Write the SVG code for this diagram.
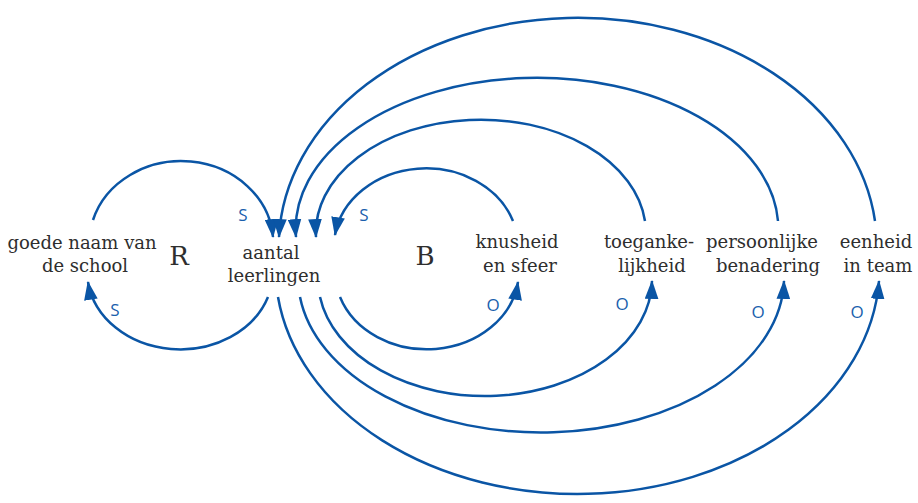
<svg xmlns="http://www.w3.org/2000/svg" width="918" height="503" viewBox="0 0 918 503">
<style>
.lbl{font-family:"DejaVu Serif","Liberation Serif",serif;font-size:18px;fill:#2e2e2e;text-anchor:middle}
.big{font-family:"DejaVu Serif","Liberation Serif",serif;font-size:26px;fill:#2e2e2e;text-anchor:middle}
.pol{font-family:"Open Sans","Liberation Sans",sans-serif;font-size:17px;fill:#1a5fad;text-anchor:middle}
.c{fill:none;stroke:#0a55a5;stroke-width:2.5;marker-end:url(#ah)}
</style>
<defs>
<marker id="ah" markerUnits="userSpaceOnUse" markerWidth="19" markerHeight="14" viewBox="0 0 18 13" refX="17" refY="6.5" orient="auto">
<path d="M0,0 L18,6.5 L0,13 z" fill="#0a55a5"/>
</marker>
</defs>
<rect width="918" height="503" fill="#fff"/>
<g id="connectors">
<path class="c" d="M93,220 A92,82 0 0 1 273,237"/>
<path class="c" d="M268,297 A93,78 0 0 1 88,282"/>
<path class="c" d="M513,221 A92,78 0 0 0 335,235"/>
<path class="c" d="M340,297 A92,78 0 0 0 518,282"/>
<path class="c" d="M645,221 A165,113 0 0 0 316,237"/>
<path class="c" d="M320,297 A167,117 0 0 0 652,281"/>
<path class="c" d="M778,221 A241,151 0 0 0 296,237"/>
<path class="c" d="M300,297 A243,155 0 0 0 784,281"/>
<path class="c" d="M875,221 A299,228 0 0 0 279,237"/>
<path class="c" d="M278,297 A302,226 0 0 0 879,281"/>
</g>
<g id="pol-labels">
<text class="pol" x="243" y="221">S</text>
<text class="pol" x="364" y="221">S</text>
<text class="pol" x="115" y="316">S</text>
<text class="pol" x="493" y="311">O</text>
<text class="pol" x="622" y="310">O</text>
<text class="pol" x="758" y="318">O</text>
<text class="pol" x="857" y="318">O</text>
</g>
<g id="goede-naam"><text class="lbl" x="82" y="249">goede naam van</text><text class="lbl" x="85" y="272">de school</text></g>
<g id="loop-R"><text class="big" x="179" y="265">R</text></g>
<g id="aantal-leerlingen"><text class="lbl" x="271" y="259">aantal</text><text class="lbl" x="274" y="282">leerlingen</text></g>
<g id="loop-B"><text class="big" x="425" y="265">B</text></g>
<g id="knusheid"><text class="lbl" x="517" y="248">knusheid</text><text class="lbl" x="520" y="272">en sfeer</text></g>
<g id="toegankelijkheid"><text class="lbl" x="649" y="248">toeganke-</text><text class="lbl" x="652" y="272">lijkheid</text></g>
<g id="persoonlijke"><text class="lbl" x="762" y="248">persoonlijke</text><text class="lbl" x="768" y="272">benadering</text></g>
<g id="eenheid"><text class="lbl" x="876" y="248">eenheid</text><text class="lbl" x="878" y="272">in team</text></g>
</svg>
